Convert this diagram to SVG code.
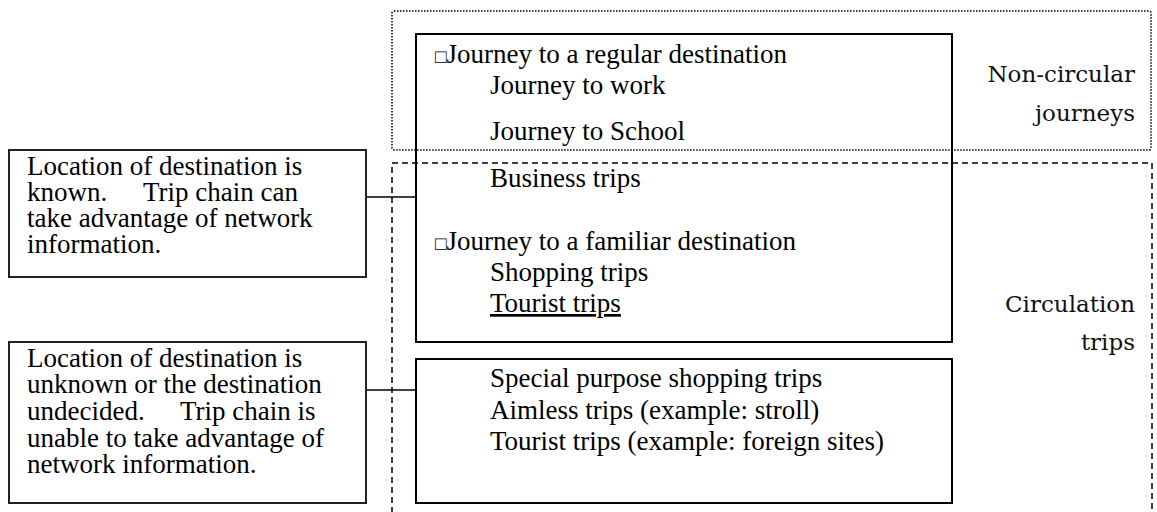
<svg xmlns="http://www.w3.org/2000/svg" width="1157" height="512" viewBox="0 0 1157 512">
<style>
text{font-family:'Liberation Serif','Times New Roman',Tinos,'DejaVu Serif',serif}
.t{font-size:27px;fill:#000}
.lbl{font-family:'DejaVu Serif','Liberation Serif',serif;font-size:23px;fill:#111;text-anchor:end}
.box{fill:none;stroke:#000;stroke-width:2}
.lbox{fill:#fff;stroke:#222;stroke-width:2}
.dot{fill:none;stroke:#000;stroke-width:1.5;stroke-dasharray:1.5 1.5}
.dash{fill:none;stroke:#000;stroke-width:1.5;stroke-dasharray:6 4}
.con{stroke:#000;stroke-width:1.5}
.sq{font-size:19px}
</style>
<rect width="1157" height="512" fill="#fff"/>
<g id="group-noncircular">
<rect class="dot" x="392" y="11" width="759" height="139" rx="2"/>
<text class="lbl" x="1135" y="82" font-family="DejaVu Serif, serif">Non-circular</text>
<text class="lbl" x="1135" y="121" font-family="DejaVu Serif, serif">journeys</text>
</g>
<g id="group-circulation">
<rect class="dash" x="392" y="163" width="760" height="380"/>
<text class="lbl" x="1135" y="312" font-family="DejaVu Serif, serif">Circulation</text>
<text class="lbl" x="1135" y="350" font-family="DejaVu Serif, serif">trips</text>
</g>
<g id="connectors">
<line class="con" x1="366" y1="197" x2="416" y2="197"/>
<line class="con" x1="366" y1="390" x2="416" y2="390"/>
</g>
<g id="node-known-trips" font-family="Liberation Serif, serif">
<rect class="box" x="416" y="34" width="536" height="308"/>
<text class="t" x="435" y="63"><tspan class="sq">□</tspan>Journey to a regular destination</text>
<text class="t" x="490" y="94">Journey to work</text>
<text class="t" x="490" y="140">Journey to School</text>
<text class="t" x="490" y="187">Business trips</text>
<text class="t" x="435" y="250"><tspan class="sq">□</tspan>Journey to a familiar destination</text>
<text class="t" x="490" y="281">Shopping trips</text>
<text class="t" x="490" y="312" text-decoration="underline">Tourist trips</text>
</g>
<g id="node-unknown-trips" font-family="Liberation Serif, serif">
<rect class="box" x="416" y="359" width="536" height="144"/>
<text class="t" x="490" y="387">Special purpose shopping trips</text>
<text class="t" x="490" y="419">Aimless trips (example: stroll)</text>
<text class="t" x="490" y="450">Tourist trips (example: foreign sites)</text>
</g>
<g id="node-known-desc" font-family="Liberation Serif, serif">
<rect class="lbox" x="9" y="150" width="357" height="127"/>
<text class="t" x="27" y="175">Location of destination is</text>
<text class="t" x="27" y="201">known.<tspan x="143">Trip chain can</tspan></text>
<text class="t" x="27" y="227">take advantage of network</text>
<text class="t" x="27" y="253">information.</text>
</g>
<g id="node-unknown-desc" font-family="Liberation Serif, serif">
<rect class="lbox" x="9" y="342" width="357" height="161"/>
<text class="t" x="27" y="367">Location of destination is</text>
<text class="t" x="27" y="393">unknown or the destination</text>
<text class="t" x="27" y="420">undecided.<tspan x="180">Trip chain is</tspan></text>
<text class="t" x="27" y="447">unable to take advantage of</text>
<text class="t" x="27" y="473">network information.</text>
</g>
</svg>
